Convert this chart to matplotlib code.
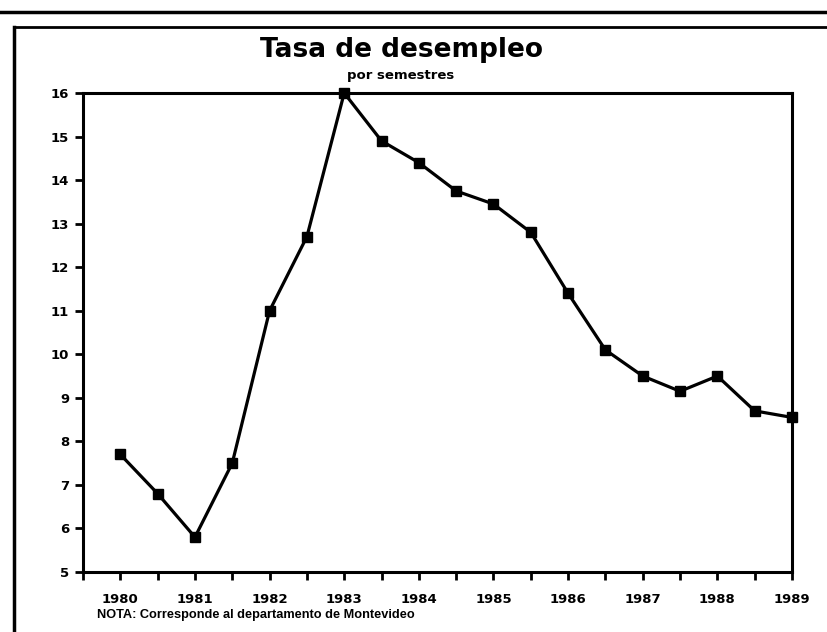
import matplotlib
matplotlib.use("Agg")
import matplotlib.pyplot as plt
from matplotlib.lines import Line2D

plt.rcParams['font.family'] = ['DejaVu Sans']

# Data: unemployment rate per semester, 1980-I .. 1989-I
values = [7.7, 6.8, 5.8, 7.5, 11.0, 12.7, 16.0, 14.9, 14.4, 13.75, 13.45,
          12.8, 11.4, 10.1, 9.5, 9.15, 9.5, 8.7, 8.55]
year_labels = ["1980", "1981", "1982", "1983", "1984", "1985", "1986",
               "1987", "1988", "1989"]
y_ticks = [5, 6, 7, 8, 9, 10, 11, 12, 13, 14, 15, 16]

title = "Tasa de desempleo"
subtitle = "por semestres"
note = "NOTA: Corresponde al departamento de Montevideo"

fig = plt.figure(figsize=(8.27, 6.32), dpi=100)
ax = fig.add_axes([83/827, 60/632, (792-83)/827, (572-93)/632])

x = list(range(len(values)))
ax.plot(x, values, color='black', lw=2.3, marker='s', markersize=7,
        markerfacecolor='black', markeredgecolor='black', clip_on=False,
        zorder=5)

ax.set_xlim(-1, len(values) - 1)
ax.set_ylim(5, 16)
ax.set_yticks(y_ticks)
ax.set_yticklabels([str(v) for v in y_ticks], fontsize=9.5, fontweight='bold')
ax.set_xticks(list(range(-1, len(values))))
ax.set_xticklabels([''] + [year_labels[i // 2] if i % 2 == 0 else ''
                           for i in range(len(values))],
                   fontsize=9.5, fontweight='bold')
ax.tick_params(axis='y', direction='out', length=6, width=2, pad=4)
ax.tick_params(axis='x', direction='out', length=6, width=2, pad=9)
for s in ax.spines.values():
    s.set_linewidth(2.2)

fig.text(401/827, 1 - 50/632, title, ha='center', va='center',
         fontsize=19, fontweight='bold')
fig.text(401/827, 1 - 76/632, subtitle, ha='center', va='center',
         fontsize=9.5, fontweight='bold')
fig.text(97/827, 1 - 615/632, note, ha='left', va='center',
         fontsize=9.2, fontweight='bold', family='Liberation Sans')

# page border lines
fig.add_artist(Line2D([0, 1], [1 - 12/632, 1 - 12/632], color='black', lw=2.5,
                      transform=fig.transFigure))
fig.add_artist(Line2D([14/827, 1], [1 - 27/632, 1 - 27/632], color='black', lw=2,
                      transform=fig.transFigure))
fig.add_artist(Line2D([14/827, 14/827], [0, 1 - 27/632], color='black', lw=2.5,
                      transform=fig.transFigure))

fig.savefig("out.png", dpi=100)
